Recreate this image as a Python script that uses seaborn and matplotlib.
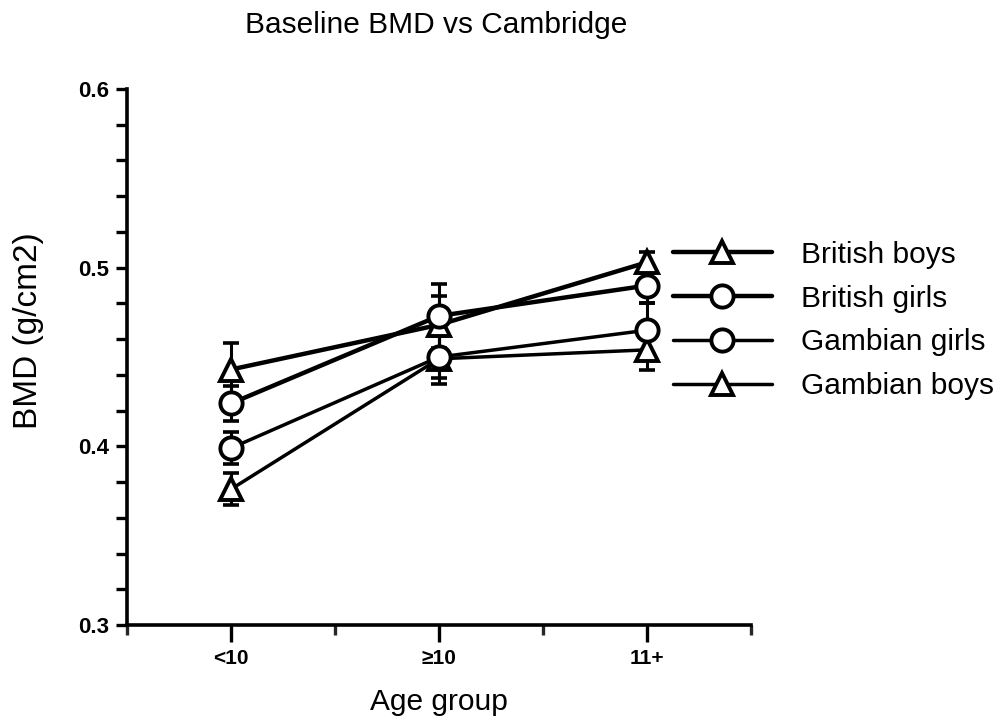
import numpy as np
import pandas as pd
import matplotlib
matplotlib.use("Agg")
import matplotlib.pyplot as plt
from matplotlib.ticker import MultipleLocator, FixedLocator
import seaborn as sns

categories = ["<10", "≥10", "11+"]
series_names = ["British boys", "British girls", "Gambian girls", "Gambian boys"]
british_boys = [0.443, 0.468, 0.503]
british_girls = [0.424, 0.473, 0.490]
gambian_girls = [0.399, 0.450, 0.465]
gambian_boys = [0.376, 0.449, 0.454]
british_boys_se = [0.015, 0.016, 0.006]
british_girls_se = [0.010, 0.018, 0.010]
gambian_girls_se = [0.009, 0.012, 0.015]
gambian_boys_se = [0.009, 0.014, 0.011]

values = [british_boys, british_girls, gambian_girls, gambian_boys]
errors = [british_boys_se, british_girls_se, gambian_girls_se, gambian_boys_se]
markers = ["^", "o", "o", "^"]
widths = [3.2, 3.2, 2.5, 2.5]
zorders = [3, 4, 4, 3]

sns.set_theme(style="ticks")
plt.rcParams["font.family"] = ["Liberation Sans", "DejaVu Sans"]
plt.rcParams["text.color"] = "black"
plt.rcParams["axes.labelcolor"] = "black"

fig = plt.figure(figsize=(10.06, 7.24), dpi=100)
ax = fig.add_axes([0.1262, 0.1367, 0.6203, 0.7404])

xpos = np.arange(len(categories))
rows = []
for name, vals in zip(series_names, values):
    for x, v in zip(xpos, vals):
        rows.append({"series": name, "x": x, "bmd": v})
df = pd.DataFrame(rows)

for name, vals, errs in zip(series_names, values, errors):
    ax.errorbar(xpos, vals, yerr=errs, fmt="none", ecolor="black",
                elinewidth=2.2, capsize=6, capthick=2.6, zorder=2)
for name, mk, lw, zo in zip(series_names, markers, widths, zorders):
    sub = df[df["series"] == name]
    sns.lineplot(data=sub, x="x", y="bmd", ax=ax, color="black", lw=lw,
                 marker=mk, markersize=16, markerfacecolor="white",
                 markeredgecolor="black", markeredgewidth=2.8,
                 label=name, zorder=zo)

ax.set_xlim(-0.5, 2.5)
ax.set_ylim(0.3, 0.6)
ax.set_xticks(xpos)
ax.set_xticklabels(categories, fontsize=15, fontweight="bold")
ax.xaxis.set_minor_locator(FixedLocator([-0.5, 0.5, 1.5, 2.5]))
ax.yaxis.set_major_locator(MultipleLocator(0.1))
ax.yaxis.set_minor_locator(MultipleLocator(0.02))
ax.set_yticklabels([f"{t:.1f}" for t in ax.get_yticks()], fontsize=16, fontweight="bold")
ax.tick_params(axis="y", which="both", length=8, width=2.4, direction="out", pad=5, colors="black")
ax.tick_params(axis="x", which="major", length=12, width=2.4, direction="out", pad=5, colors="black")
ax.tick_params(axis="x", which="minor", length=7, width=2.4, direction="out")
for s in ["top", "right"]:
    ax.spines[s].set_visible(False)
for s in ["left", "bottom"]:
    ax.spines[s].set_linewidth(2.6)
    ax.spines[s].set_color("black")

ax.set_xlabel("Age group", fontsize=21.5, labelpad=15)
ax.set_ylabel("BMD (g/cm2)", fontsize=24)
ax.yaxis.set_label_coords(-0.133, 0.549)
fig.suptitle("Baseline BMD vs Cambridge", fontsize=21.5, x=0.434, y=0.985)

leg = ax.legend(loc="upper left", bbox_to_anchor=(0.856, 0.739), frameon=False,
                fontsize=21.5, handlelength=3.3, handletextpad=1.0,
                labelspacing=0.53, borderaxespad=0)
leg.set_zorder(5)

fig.savefig("out.png", dpi=100)
